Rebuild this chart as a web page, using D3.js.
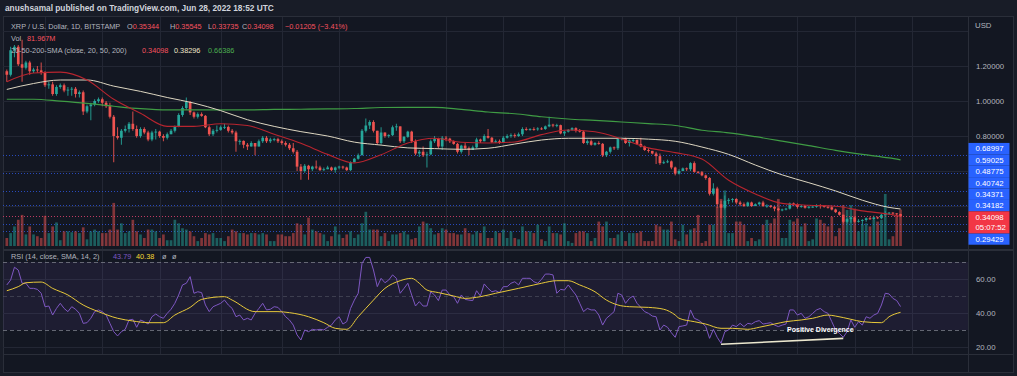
<!DOCTYPE html>
<html>
<head>
<meta charset="utf-8">
<script src="https://cdn.jsdelivr.net/npm/d3@7"></script>
<style>
  html, body { margin: 0; padding: 0; background: #181c27; }
  svg { display: block; font-family: "Liberation Sans", Arial, sans-serif; }
</style>
</head>
<body>
<svg id="chart" width="1017" height="376"></svg>
<script>
// ---- data (XRP/USD daily, Bitstamp), first bar 2021-11-06 ----
const startDay = "2021-11-06";
const lastOpen = 0.35344;

const closes = [
  // Nov
  1.15, 1.29, 1.31, 1.21, 1.19, 1.22, 1.17, 1.18, 1.175, 1.165, 1.09, 1.095, 1.04, 1.08, 1.09, 1.06, 1.065, 1.07, 1.04, 1.05, 0.94, 0.97, 0.98, 1.00, 1.01,
  // Dec
  0.99, 0.97, 0.91, 0.80, 0.79, 0.83, 0.84, 0.87, 0.84, 0.80, 0.84, 0.82, 0.78, 0.82, 0.825, 0.80, 0.79, 0.81, 0.83, 0.855, 0.92, 0.96, 0.995, 0.935, 0.91, 0.925, 0.915, 0.85, 0.81, 0.83, 0.835,
  // Jan
  0.85, 0.852, 0.83, 0.82, 0.77, 0.772, 0.75, 0.74, 0.76, 0.74, 0.77, 0.79, 0.77, 0.78, 0.782, 0.77, 0.76, 0.75, 0.73, 0.71, 0.625, 0.60, 0.63, 0.61, 0.625, 0.62, 0.605, 0.61, 0.62, 0.605, 0.62,
  // Feb
  0.625, 0.62, 0.605, 0.65, 0.67, 0.69, 0.83, 0.86, 0.88, 0.83, 0.76, 0.82, 0.80, 0.805, 0.85, 0.855, 0.77, 0.795, 0.825, 0.77, 0.70, 0.71, 0.69, 0.695, 0.77, 0.785, 0.74, 0.79,
  // Mar
  0.785, 0.77, 0.755, 0.71, 0.745, 0.73, 0.72, 0.735, 0.78, 0.77, 0.80, 0.79, 0.765, 0.77, 0.76, 0.79, 0.80, 0.805, 0.80, 0.81, 0.84, 0.835, 0.84, 0.838, 0.843, 0.84, 0.855, 0.865, 0.86, 0.862, 0.815,
  // Apr
  0.825, 0.835, 0.845, 0.83, 0.825, 0.76, 0.77, 0.75, 0.76, 0.755, 0.69, 0.71, 0.735, 0.73, 0.785, 0.787, 0.76, 0.775, 0.777, 0.755, 0.74, 0.72, 0.715, 0.70, 0.685, 0.645, 0.65, 0.655, 0.62, 0.585,
  // May
  0.60, 0.615, 0.61, 0.645, 0.595, 0.593, 0.575, 0.56, 0.47, 0.50, 0.41, 0.39, 0.43, 0.435, 0.44, 0.42, 0.41, 0.40, 0.42, 0.40, 0.41, 0.42, 0.40, 0.402, 0.395, 0.385, 0.377, 0.38, 0.385, 0.415, 0.41,
  // Jun
  0.395, 0.40, 0.39, 0.395, 0.396, 0.405, 0.40, 0.395, 0.393, 0.38, 0.365, 0.35, 0.31, 0.325, 0.335, 0.31, 0.315, 0.32, 0.33, 0.325, 0.335, 0.33, 0.35, 0.36, 0.362, 0.358, 0.35303, 0.34098
];

const highs = [
  1.18, 1.31, 1.32, 1.32, 1.35, 1.23, 1.23, 1.19, 1.20, 1.22, 1.17, 1.11, 1.11, 1.09, 1.10, 1.10, 1.08, 1.08, 1.08, 1.06, 1.06, 0.98, 0.99, 1.01, 1.02,
  1.02, 1.00, 0.99, 0.92, 0.85, 0.84, 0.86, 0.88, 0.94, 0.86, 0.85, 0.85, 0.83, 0.83, 0.84, 0.83, 0.81, 0.82, 0.84, 0.86, 0.93, 0.97, 1.02, 1.00, 0.94, 0.935, 0.935, 0.92, 0.86, 0.84, 0.86,
  0.86, 0.87, 0.86, 0.84, 0.83, 0.78, 0.775, 0.76, 0.77, 0.76, 0.78, 0.80, 0.80, 0.79, 0.79, 0.79, 0.78, 0.77, 0.76, 0.76, 0.72, 0.64, 0.64, 0.635, 0.63, 0.66, 0.63, 0.62, 0.63, 0.625, 0.625,
  0.63, 0.63, 0.625, 0.655, 0.675, 0.70, 0.84, 0.90, 0.89, 0.89, 0.83, 0.85, 0.82, 0.81, 0.86, 0.87, 0.855, 0.80, 0.83, 0.83, 0.78, 0.72, 0.74, 0.71, 0.78, 0.80, 0.79, 0.80,
  0.80, 0.79, 0.775, 0.76, 0.75, 0.76, 0.74, 0.745, 0.79, 0.785, 0.81, 0.84, 0.795, 0.78, 0.78, 0.80, 0.81, 0.815, 0.815, 0.82, 0.85, 0.85, 0.845, 0.85, 0.85, 0.85, 0.86, 0.91, 0.87, 0.87, 0.865,
  0.83, 0.84, 0.85, 0.85, 0.84, 0.83, 0.78, 0.78, 0.765, 0.77, 0.76, 0.715, 0.74, 0.74, 0.79, 0.79, 0.79, 0.78, 0.785, 0.78, 0.79, 0.745, 0.73, 0.715, 0.71, 0.70, 0.66, 0.665, 0.66, 0.625,
  0.61, 0.62, 0.62, 0.65, 0.655, 0.60, 0.60, 0.58, 0.565, 0.53, 0.51, 0.43, 0.46, 0.445, 0.445, 0.445, 0.43, 0.42, 0.425, 0.425, 0.415, 0.425, 0.43, 0.41, 0.405, 0.40, 0.39, 0.385, 0.39, 0.42, 0.42,
  0.415, 0.405, 0.405, 0.40, 0.40, 0.41, 0.41, 0.405, 0.40, 0.40, 0.385, 0.37, 0.35, 0.33, 0.34, 0.34, 0.325, 0.325, 0.335, 0.34, 0.345, 0.34, 0.355, 0.37, 0.365, 0.365, 0.36, 0.35545
];

const lows = [
  1.11, 1.14, 1.25, 1.20, 1.11, 1.18, 1.15, 1.16, 1.16, 1.15, 1.08, 1.07, 1.03, 1.03, 1.07, 1.05, 1.03, 1.03, 1.02, 1.02, 0.92, 0.93, 0.89, 0.97, 0.99,
  0.97, 0.96, 0.90, 0.65, 0.78, 0.75, 0.82, 0.82, 0.83, 0.79, 0.79, 0.81, 0.77, 0.77, 0.78, 0.79, 0.77, 0.78, 0.81, 0.82, 0.85, 0.91, 0.95, 0.92, 0.90, 0.90, 0.91, 0.845, 0.80, 0.80, 0.82,
  0.83, 0.84, 0.82, 0.81, 0.71, 0.75, 0.73, 0.72, 0.74, 0.69, 0.74, 0.76, 0.76, 0.76, 0.77, 0.76, 0.75, 0.74, 0.72, 0.70, 0.60, 0.55, 0.59, 0.55, 0.60, 0.61, 0.60, 0.60, 0.61, 0.60, 0.59,
  0.61, 0.61, 0.60, 0.60, 0.65, 0.665, 0.69, 0.82, 0.84, 0.82, 0.75, 0.75, 0.79, 0.79, 0.80, 0.83, 0.76, 0.76, 0.79, 0.76, 0.69, 0.68, 0.68, 0.62, 0.69, 0.76, 0.73, 0.72,
  0.77, 0.76, 0.75, 0.70, 0.70, 0.72, 0.69, 0.72, 0.73, 0.76, 0.77, 0.785, 0.76, 0.76, 0.755, 0.76, 0.785, 0.79, 0.79, 0.795, 0.80, 0.83, 0.83, 0.83, 0.83, 0.835, 0.835, 0.85, 0.85, 0.85, 0.81,
  0.80, 0.82, 0.83, 0.82, 0.82, 0.755, 0.75, 0.745, 0.745, 0.75, 0.68, 0.68, 0.70, 0.72, 0.72, 0.775, 0.755, 0.74, 0.765, 0.75, 0.735, 0.715, 0.705, 0.695, 0.64, 0.635, 0.64, 0.645, 0.61, 0.575,
  0.58, 0.60, 0.60, 0.60, 0.59, 0.585, 0.57, 0.55, 0.46, 0.46, 0.39, 0.33, 0.38, 0.41, 0.42, 0.41, 0.40, 0.395, 0.395, 0.395, 0.40, 0.405, 0.395, 0.39, 0.39, 0.37, 0.37, 0.37, 0.375, 0.38, 0.40,
  0.385, 0.39, 0.385, 0.385, 0.39, 0.39, 0.385, 0.39, 0.385, 0.375, 0.36, 0.345, 0.30, 0.30, 0.305, 0.305, 0.305, 0.29, 0.31, 0.32, 0.32, 0.325, 0.325, 0.345, 0.35, 0.345, 0.345, 0.33735
];

// volume, millions
const volumes = [
  18, 29, 44, 59, 70, 26, 44, 26, 22, 18, 68, 29, 44, 53, 13, 33, 33, 31, 33, 29, 42, 15, 33, 37, 33,
  29, 29, 37, 97, 37, 51, 29, 33, 59, 33, 26, 18, 37, 37, 33, 18, 26, 13, 13, 59, 51, 40, 37, 33, 22, 11, 18, 29, 26, 29, 18,
  18, 11, 22, 37, 33, 29, 29, 26, 29, 29, 26, 29, 26, 11, 11, 26, 26, 22, 22, 29, 51, 48, 26, 64, 37, 33, 29, 26, 11, 22, 44,
  26, 18, 26, 33, 18, 26, 51, 77, 37, 37, 37, 22, 29, 11, 26, 26, 29, 33, 26, 15, 18, 44, 55, 51, 40, 26, 29, 40,
  37, 29, 29, 26, 26, 40, 29, 26, 33, 29, 44, 18, 18, 33, 29, 37, 18, 33, 18, 15, 44, 33, 33, 29, 48, 15, 11, 44, 29, 29, 26,
  51, 11, 7, 29, 33, 33, 29, 11, 18, 55, 44, 55, 18, 18, 26, 33, 11, 29, 29, 29, 33, 11, 11, 11, 48, 44, 37, 37, 55, 15,
  11, 48, 26, 37, 40, 70, 7, 11, 48, 48, 88, 106, 125, 29, 29, 55, 55, 48, 11, 18, 11, 15, 48, 59, 51, 62, 106, 18, 18, 59, 55,
  62, 44, 51, 11, 15, 62, 59, 51, 44, 66, 22, 40, 92, 81, 92, 84, 33, 48, 51, 44, 59, 55, 59, 117, 15, 22, 70, 81.967
];

const smaDays = [0, 7, 14, 21, 28, 35, 42, 49, 56, 63, 70, 77, 84, 91, 98, 105, 112, 119, 126, 133, 140, 147, 154, 161, 168, 175, 182, 189, 196, 203, 210, 217, 224, 231, 234];
const sma20 = [1.11, 1.16, 1.165, 1.12, 1.01, 0.93, 0.855, 0.855, 0.87, 0.86, 0.81, 0.758, 0.695, 0.646, 0.693, 0.76, 0.787, 0.764, 0.76, 0.766, 0.808, 0.834, 0.824, 0.783, 0.732, 0.705, 0.668, 0.547, 0.469, 0.415, 0.404, 0.399, 0.372, 0.353, 0.34098];
const sma50 = [1.066, 1.10, 1.12, 1.12, 1.085, 1.055, 1.02, 0.988, 0.945, 0.893, 0.855, 0.825, 0.80, 0.765, 0.748, 0.732, 0.728, 0.724, 0.73, 0.754, 0.777, 0.787, 0.787, 0.787, 0.782, 0.77, 0.737, 0.695, 0.634, 0.578, 0.533, 0.486, 0.433, 0.392, 0.38296];
const sma200 = [1.01, 1.01, 0.999, 0.986, 0.970, 0.956, 0.949, 0.949, 0.949, 0.949, 0.952, 0.953, 0.955, 0.957, 0.963, 0.964, 0.964, 0.952, 0.937, 0.927, 0.91, 0.897, 0.889, 0.88, 0.871, 0.86, 0.833, 0.818, 0.796, 0.771, 0.745, 0.718, 0.695, 0.675, 0.66386];

// RSI(14), one value per bar
const rsiVals = [
  56.5, 59.4, 66.9, 65.3, 57.5, 57.5, 54.5, 54.5, 53.9, 51.6,
  43.7, 44.1, 38.8, 42.7, 45.7, 42.7, 40.8, 43.7, 42.2, 39.8,
  33.9, 34.3, 36.9, 40.8, 41.8, 40.8, 38.8, 33.9, 29.0, 26.5,
  29.0, 30.4, 35.9, 36.3, 31.6, 35.9, 34.9, 33.5, 37.8, 39.4,
  37.8, 36.9, 39.8, 42.2, 45.7, 50.6, 56.5, 57.5, 61.4, 51.6,
  52.5, 52.0, 44.7, 40.8, 43.7, 44.7, 45.7, 47.6, 44.7, 42.7,
  37.8, 38.8, 35.9, 36.9, 35.9, 39.8, 42.7, 45.7, 41.8, 42.2,
  43.7, 43.3, 40.8, 37.8, 35.9, 32.9, 27.1, 24.1, 30.0, 29.0,
  30.4, 30.0, 30.4, 30.0, 31.6, 32.9, 35.9, 37.8,
  33.5, 34.9, 42.7, 47.6, 51.6, 69.2, 72.7, 72.7, 65.3, 55.5,
  60.4, 57.8, 59.4, 62.4, 60.4, 51.6, 54.5, 57.5, 50.6, 44.1,
  46.7, 44.1, 44.1, 52.5, 50.6, 47.3, 53.5, 53.5, 50.6, 49.6,
  45.7, 50.6, 48.0, 47.6, 47.3, 53.1, 50.0, 57.1, 54.5, 52.5,
  53.1, 52.0, 55.5, 55.5, 57.5, 58.4, 56.5, 60.4, 60.4, 60.4,
  58.4, 57.5, 59.8, 62.9, 62.9, 62.4, 51.6, 53.9, 53.5, 56.5,
  53.5, 50.6, 45.7, 40.8, 42.7, 41.8, 41.8, 38.8, 32.9, 36.9,
  38.8, 40.8, 51.6, 50.6, 45.7, 48.6, 50.0, 45.7, 43.3, 40.8,
  39.8, 38.2, 37.8, 30.0, 32.9, 31.6, 28.4, 25.7, 32.0,
  32.4, 32.9, 41.8, 36.9, 35.9, 34.3, 32.0, 25.1, 30.4, 25.7,
  22.2, 29.0, 30.0, 32.9, 32.0, 33.9, 32.0, 33.9, 33.5, 34.9,
  35.5, 33.5, 33.9, 34.3, 32.9, 32.0, 32.9, 33.5, 41.8, 41.8,
  38.8, 39.8, 36.9, 37.8, 39.8, 41.8, 42.7, 40.8, 39.8, 34.9,
  30.0, 28.0, 25.7, 29.0, 35.9, 31.6, 34.9, 32.9, 37.8, 36.9,
  38.8, 39.8, 44.7, 51.6, 51.2, 48.6, 47.3, 43.79
];

// RSI-based SMA(14), sparse (day offset, value)
const rsiSmaDays = [0, 3, 5, 9, 12, 16, 20, 24, 29, 33, 37, 41, 44, 48, 51, 57, 59, 65, 71, 74, 79, 83, 86, 89, 92, 96, 99, 103, 106, 108, 110, 113, 117, 120, 124, 128, 134, 138, 140, 144, 147, 150, 154, 157, 160, 163, 168, 172, 175, 176, 180, 183, 187, 190, 194, 197, 201, 204, 208, 211, 215, 217, 221, 224, 229, 231, 234];
const rsiSmaVals = [53.1, 55.5, 57.8, 58.2, 54.5, 50.6, 44.7, 40.8, 36.9, 35.3, 34.3, 34.3, 38.8, 43.3, 48.0, 49.6, 47.6, 40.8, 40.8, 40.2, 37.8, 34.3, 31.0, 30.4, 37.8, 47.6, 54.5, 59.0, 60.4, 57.5, 53.5, 52.0, 50.0, 48.6, 49.6, 51.6, 54.5, 56.5, 57.5, 59.0, 59.0, 56.5, 52.5, 47.6, 44.7, 43.7, 43.3, 42.2, 38.8, 36.9, 34.9, 33.5, 31.0, 31.0, 30.4, 31.6, 33.5, 34.9, 35.9, 36.9, 38.8, 38.2, 36.3, 34.9, 34.3, 37.8, 40.38];

// horizontal levels drawn on the price pane
const lineLevels = [0.68997, 0.59025, 0.48775, 0.40742, 0.34371, 0.29429, 0.2588];
const labelLevels = [0.68997, 0.59025, 0.48775, 0.40742, 0.34371, 0.34182, 0.29429];
const countdown = "05:07:52";

// divergence annotation on RSI
const divDates = ["2022-05-12", "2022-06-13"];
const divRsi = [21.6, 25.1];
const divLabel = { date: "2022-06-07", rsi: 28.6, text: "Positive Divergence" };

// axis ticks
const tickDates = ["2021-11-16", "2021-12-01", "2021-12-16", "2022-01-01", "2022-01-17", "2022-02-01", "2022-03-01", "2022-03-16", "2022-04-01", "2022-04-16", "2022-05-01", "2022-05-16", "2022-06-01", "2022-06-16", "2022-07-01", "2022-07-16"];
const tickLabels = ["16", "Dec", "16", "2022", "17", "Feb", "Mar", "16", "Apr", "16", "May", "16", "Jun", "16", "Jul", "16"];
const priceTicks = [0.4, 0.6, 0.8, 1.0, 1.2];
const priceGrid = [0.4, 0.6, 0.8, 1.0, 1.2, 1.4];
const rsiTicks = [20, 40, 60];

// ---- build bars ----
const parse = d3.utcParse("%Y-%m-%d");
const t0 = parse(startDay);
const n = closes.length;
const bars = closes.map((c, i) => ({
  date: d3.utcDay.offset(t0, i),
  open: i === n - 1 ? lastOpen : (i ? closes[i - 1] : 1.17),
  high: highs[i], low: lows[i], close: c, vol: volumes[i], rsi: rsiVals[i]
}));
const dayPts = (days, vals) => days.map((d, i) => ({ date: d3.utcDay.offset(t0, d), v: vals[i] }));

// ---- layout ----
const W = 1017, H = 376;
const plotL = 3, plotR = 968;
const priceTop = 17, priceBot = 249;
const rsiTop = 251, rsiBot = 354;

const x = d3.scaleUtc().domain([parse("2021-11-16"), parse("2022-07-01")]).range([45, 912]);
const y = d3.scaleLinear().domain([0.2, 1.2]).range([241, 66]);
const yVol = d3.scaleLinear().domain([0, 135]).range([246, 186]);
const yR = d3.scaleLinear().domain([20, 60]).range([347, 279]);

const up = "#26a69a", down = "#ef5350";
const txt = "#b2b5be";
const fs = 7.8, lfs = 7.3;

const svg = d3.select("#chart");
const defs = svg.append("defs");
defs.append("clipPath").attr("id", "clipP").append("rect")
  .attr("x", plotL).attr("y", priceTop).attr("width", plotR - plotL).attr("height", priceBot - priceTop);
defs.append("clipPath").attr("id", "clipR").append("rect")
  .attr("x", plotL).attr("y", rsiTop).attr("width", plotR - plotL).attr("height", rsiBot - rsiTop);
defs.append("clipPath").attr("id", "clipX").append("rect")
  .attr("x", plotL).attr("y", rsiBot).attr("width", plotR - plotL - 2).attr("height", 20);

svg.append("rect").attr("width", W).attr("height", H).attr("fill", "#181c27");
svg.append("rect").attr("x", 3.5).attr("y", 16.5).attr("width", 1010).attr("height", 356)
  .attr("fill", "#131722").attr("stroke", "#2a2e39");

svg.append("text").attr("x", 5).attr("y", 11).attr("fill", "#d1d4dc")
  .attr("font-size", 8.3).attr("font-weight", "bold")
  .text("anushsamal published on TradingView.com, Jun 28, 2022 18:52 UTC");

// grid
const grid = svg.append("g").attr("stroke", "#232734").attr("stroke-width", 1);
tickDates.forEach(d => {
  const gx = Math.round(x(parse(d))) + 0.5;
  if (gx > plotR) return;
  grid.append("line").attr("x1", gx).attr("x2", gx).attr("y1", priceTop).attr("y2", priceBot);
  grid.append("line").attr("x1", gx).attr("x2", gx).attr("y1", rsiTop).attr("y2", rsiBot);
});
priceGrid.forEach(v => {
  const gy = Math.round(y(v)) + 0.5;
  grid.append("line").attr("x1", plotL).attr("x2", plotR).attr("y1", gy).attr("y2", gy);
});
rsiTicks.forEach(v => {
  const gy = Math.round(yR(v)) + 0.5;
  grid.append("line").attr("x1", plotL).attr("x2", plotR).attr("y1", gy).attr("y2", gy);
});

// ---- price pane ----
const gP = svg.append("g").attr("clip-path", "url(#clipP)");

gP.selectAll(".lvl").data(lineLevels).join("line")
  .attr("x1", plotL).attr("x2", plotR)
  .attr("y1", d => Math.round(y(d)) + 0.5).attr("y2", d => Math.round(y(d)) + 0.5)
  .attr("stroke", "#2f5bf0").attr("stroke-dasharray", "1 2").attr("opacity", 0.75);

const step = x(d3.utcDay.offset(t0, 1)) - x(t0);
const bw = step * 0.7;
const col = d => d.close >= d.open ? up : down;

gP.selectAll(".vol").data(bars).join("rect")
  .attr("x", d => x(d.date) - bw / 2).attr("width", bw)
  .attr("y", d => yVol(d.vol)).attr("height", d => yVol(0) - yVol(d.vol))
  .attr("fill", col).attr("opacity", 0.5);

gP.selectAll(".wick").data(bars).join("line")
  .attr("x1", d => x(d.date)).attr("x2", d => x(d.date))
  .attr("y1", d => y(Math.max(d.high, d.open, d.close)))
  .attr("y2", d => y(Math.min(d.low, d.open, d.close)))
  .attr("stroke", col).attr("stroke-width", 0.9);

gP.selectAll(".body").data(bars).join("rect")
  .attr("x", d => x(d.date) - bw / 2).attr("width", bw)
  .attr("y", d => y(Math.max(d.open, d.close)))
  .attr("height", d => Math.max(0.9, Math.abs(y(d.open) - y(d.close))))
  .attr("fill", col);

const smaLine = d3.line().x(d => x(d.date)).y(d => y(d.v)).curve(d3.curveMonotoneX);
[[sma200, "#3f9c44", 1.2], [sma50, "#ddd6c1", 1], [sma20, "#b8252f", 1.1]].forEach(([vals, c, w]) => {
  gP.append("path").datum(dayPts(smaDays, vals)).attr("d", smaLine)
    .attr("fill", "none").attr("stroke", c).attr("stroke-width", w);
});

const last = bars[n - 1];
gP.append("line").attr("x1", plotL).attr("x2", plotR)
  .attr("y1", Math.round(y(last.close)) + 0.5).attr("y2", Math.round(y(last.close)) + 0.5)
  .attr("stroke", "#f23645").attr("stroke-dasharray", "1 2").attr("opacity", 0.75);

// ---- RSI pane ----
const gR = svg.append("g").attr("clip-path", "url(#clipR)");
gR.append("rect").attr("x", plotL).attr("width", plotR - plotL)
  .attr("y", yR(70)).attr("height", yR(30) - yR(70))
  .attr("fill", "#7e57c2").attr("opacity", 0.1);
[[70, 0.8], [50, 0.35], [30, 0.8]].forEach(([v, o]) => {
  gR.append("line").attr("x1", plotL).attr("x2", plotR)
    .attr("y1", Math.round(yR(v)) + 0.5).attr("y2", Math.round(yR(v)) + 0.5)
    .attr("stroke", "#787b86").attr("stroke-dasharray", "4 3").attr("opacity", o);
});
gR.append("path").datum(bars)
  .attr("d", d3.line().x(d => x(d.date)).y(d => yR(d.rsi)))
  .attr("fill", "none").attr("stroke", "#7e57c2").attr("stroke-width", 1);
gR.append("path").datum(dayPts(rsiSmaDays, rsiSmaVals))
  .attr("d", d3.line().x(d => x(d.date)).y(d => yR(d.v)).curve(d3.curveMonotoneX))
  .attr("fill", "none").attr("stroke", "#e8c93a").attr("stroke-width", 1);

gR.append("line")
  .attr("x1", x(parse(divDates[0]))).attr("y1", yR(divRsi[0]))
  .attr("x2", x(parse(divDates[1]))).attr("y2", yR(divRsi[1]))
  .attr("stroke", "#ece8cf").attr("stroke-width", 1.6);
gR.append("text").attr("x", x(parse(divLabel.date))).attr("y", yR(divLabel.rsi))
  .attr("text-anchor", "middle").attr("fill", "#ffffff").attr("font-size", 7)
  .attr("font-weight", "bold").text(divLabel.text);

// pane separators
svg.append("line").attr("x1", plotL).attr("x2", 1014).attr("y1", 250).attr("y2", 250)
  .attr("stroke", "#2a2e39").attr("stroke-width", 2);
svg.append("line").attr("x1", plotL).attr("x2", 1014).attr("y1", rsiBot + 0.5).attr("y2", rsiBot + 0.5)
  .attr("stroke", "#2a2e39");
svg.append("line").attr("x1", plotR + 0.5).attr("x2", plotR + 0.5).attr("y1", 17).attr("y2", 373)
  .attr("stroke", "#2a2e39");

// ---- axes ----
const xAxis = d3.axisBottom(x).tickValues(tickDates.map(parse))
  .tickFormat((d, i) => tickLabels[i]).tickSize(0).tickPadding(0);
const gx = svg.append("g").attr("transform", `translate(0,${rsiBot + 11.5})`)
  .attr("clip-path", "url(#clipX)").call(xAxis);
gx.select(".domain").remove();
gx.selectAll("text").attr("fill", txt).attr("font-size", fs).attr("dy", "0.32em")
  .attr("font-family", "Liberation Sans, Arial, sans-serif")
  .attr("font-weight", (d, i) => tickLabels[i] === "2022" ? "bold" : null);

const yAxis = d3.axisRight(y).tickValues(priceTicks).tickFormat(d3.format(".5f")).tickSize(0).tickPadding(0);
const gy = svg.append("g").attr("transform", `translate(${plotR + 8},0)`).call(yAxis);
gy.select(".domain").remove();
gy.selectAll("text").attr("fill", txt).attr("font-size", fs).attr("font-family", "Liberation Sans, Arial, sans-serif");

const rAxis = d3.axisRight(yR).tickValues(rsiTicks).tickFormat(d3.format(".2f")).tickSize(0).tickPadding(0);
const gr = svg.append("g").attr("transform", `translate(${plotR + 8},0)`).call(rAxis);
gr.select(".domain").remove();
gr.selectAll("text").attr("fill", txt).attr("font-size", fs).attr("font-family", "Liberation Sans, Arial, sans-serif");

svg.append("text").attr("x", plotR + 7).attr("y", 28).attr("fill", txt).attr("font-size", fs).text("USD");

// ---- price labels on the right scale, stacked ----
const boxH = 11.4, boxX = plotR + 0.5, boxW = 41;
const curTop = y(last.close) - 5;
const curH = 22;
const labels = [];
const above = labelLevels.filter(v => v >= last.close).sort((a, b) => a - b);
const below = labelLevels.filter(v => v < last.close).sort((a, b) => b - a);
let edge = curTop;
above.forEach(v => {
  const bottom = Math.min(y(v) + boxH / 2, edge);
  labels.push({ v, top: bottom - boxH });
  edge = bottom - boxH;
});
edge = curTop + curH;
below.forEach(v => {
  const top = Math.max(y(v) - boxH / 2, edge);
  labels.push({ v, top });
  edge = top + boxH;
});
const fmt5 = d3.format(".5f");
const gL = svg.append("g").attr("font-size", fs).attr("fill", "#ffffff");
labels.forEach(l => {
  gL.append("rect").attr("x", boxX).attr("y", l.top).attr("width", boxW).attr("height", boxH).attr("fill", "#2962ff");
  gL.append("text").attr("x", boxX + 7).attr("y", l.top + boxH / 2).attr("dy", "0.35em").text(fmt5(l.v));
});
gL.append("rect").attr("x", boxX).attr("y", curTop).attr("width", boxW).attr("height", curH).attr("fill", "#f23645");
gL.append("text").attr("x", boxX + 7).attr("y", curTop + 5.7).attr("dy", "0.35em").text(fmt5(last.close));
gL.append("text").attr("x", boxX + 7).attr("y", curTop + 16.3).attr("dy", "0.35em").text(countdown);

// ---- legends ----
const red = "#f7525f";
const prev = bars[n - 2].close;
const chg = last.close - prev;
const minus = v => (v < 0 ? "\u2212" : "") + Math.abs(v);
const l1 = svg.append("text").attr("y", 29).attr("font-size", lfs).attr("fill", txt);
l1.append("tspan").attr("x", 11).text("XRP / U.S. Dollar, 1D, BITSTAMP");
[["O", last.open, 127], ["H", last.high, 170], ["L", last.low, 208], ["C", last.close, 242]].forEach(([k, v, px]) => {
  l1.append("tspan").attr("x", px).text(k);
  l1.append("tspan").attr("fill", red).text(fmt5(v));
});
l1.append("tspan").attr("x", 285).attr("fill", red)
  .text(`${minus(+chg.toFixed(5))} (${minus(+(chg / prev * 100).toFixed(2))}%)`);

const l2 = svg.append("text").attr("y", 41).attr("font-size", lfs).attr("fill", txt);
l2.append("tspan").attr("x", 11).text("Vol");
l2.append("tspan").attr("x", 27).attr("fill", red).text(d3.format(".3f")(last.vol) + "M");

const l3 = svg.append("text").attr("y", 53).attr("font-size", lfs).attr("fill", txt);
l3.append("tspan").attr("x", 11).text("20-50-200-SMA (close, 20, 50, 200)");
l3.append("tspan").attr("x", 142).attr("fill", red).text(fmt5(sma20[sma20.length - 1]));
l3.append("tspan").attr("x", 174).attr("fill", "#f0e6c8").text(fmt5(sma50[sma50.length - 1]));
l3.append("tspan").attr("x", 208).attr("fill", "#4caf50").text(fmt5(sma200[sma200.length - 1]));

const l4 = svg.append("text").attr("y", 259).attr("font-size", lfs).attr("fill", txt);
l4.append("tspan").attr("x", 11).text("RSI (14, close, SMA, 14, 2)");
l4.append("tspan").attr("x", 113).attr("fill", "#7e57c2").text(d3.format(".2f")(rsiVals[n - 1]));
l4.append("tspan").attr("x", 136).attr("fill", "#f5d934").text(d3.format(".2f")(rsiSmaVals[rsiSmaVals.length - 1]));
l4.append("tspan").attr("x", 162).text("\u00f8");
l4.append("tspan").attr("x", 172).text("\u00f8");
</script>
</body>
</html>
